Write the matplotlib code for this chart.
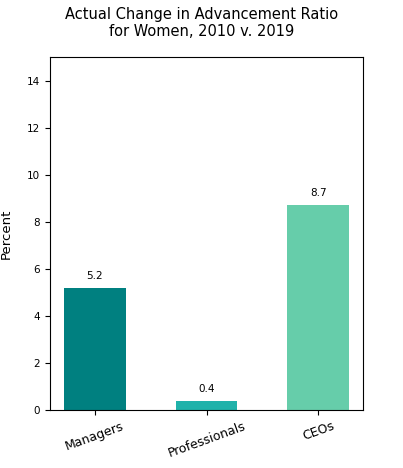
import matplotlib
matplotlib.use("Agg")
import matplotlib.pyplot as plt

categories = ["Managers", "Professionals", "CEOs"]
values = [5.2, 0.4, 8.7]
bar_colors = ["#008080", "#20B2AA", "#66CDAA"]

fig = plt.figure(figsize=(4.03, 4.68), dpi=100)
ax = fig.add_axes([0.124, 0.124, 0.777, 0.754])

bars = ax.bar(categories, values, width=0.55, color=bar_colors)
for b, v in zip(bars, values):
    ax.text(b.get_x() + b.get_width() / 2, v + 0.3, f"{v}",
            ha="center", va="bottom", fontsize=7.5)

ax.set_ylim(0, 15)
ax.set_yticks(range(0, 15, 2))
ax.tick_params(axis="y", labelsize=7.5)
ax.tick_params(axis="x", labelsize=9)
plt.setp(ax.get_xticklabels(), rotation=20)
ax.set_ylabel("Percent", fontsize=9.5)
ax.yaxis.set_label_coords(-0.12, 0.5)

fig.suptitle("Actual Change in Advancement Ratio\nfor Women, 2010 v. 2019",
             fontsize=10.5, y=0.985)

fig.savefig("out.png", dpi=100)
